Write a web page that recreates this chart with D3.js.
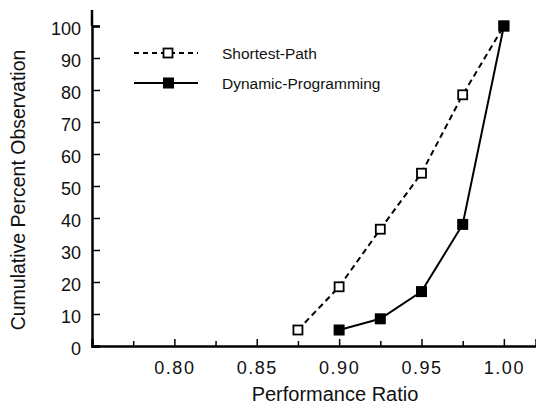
<!DOCTYPE html>
<html lang="en">
<head>
    <meta charset="UTF-8">
    <title>Performance Ratio</title>
    <script src="https://d3js.org/d3.v7.min.js"></script>
    <style>
        body {margin: 0; background: white;}
        text {
            font-family: "Liberation Sans", Arial, sans-serif;
        }
    </style>
</head>
<body>
<script>
    const width = 536;
    const height = 404;

    const ratios = [0.875, 0.90, 0.925, 0.95, 0.975, 1.00];
    const shortestPath = [5, 18.5, 36.5, 54, 78.5, 100];
    const dpRatios = [0.90, 0.925, 0.95, 0.975, 1.00];
    const dynamicProg = [5, 8.5, 17, 38, 100];
    const xTicks = [0.80, 0.85, 0.90, 0.95, 1.00];
    const xMinorTicks = [0.775, 0.825, 0.875, 0.925, 0.975];
    const yTicks = [0, 10, 20, 30, 40, 50, 60, 70, 80, 90, 100];

    const svg = d3.select("body").append("svg")
            .attr("width", width).attr("height", height);

    const x = d3.scaleLinear().domain([0.75, 1.0195]).range([92, 536]);
    const y = d3.scaleLinear().domain([0, 100]).range([346, 26]);

    // axes, ticks drawn inward
    svg.append("g")
            .attr("transform", "translate(0,346)")
            .call(d3.axisBottom(x).tickValues(xTicks).tickSize(-7).tickPadding(15)
                    .tickFormat(d3.format(".2f")))
            .call(g => g.select(".domain").attr("stroke-width", 2.5))
            .call(g => g.selectAll(".tick line").attr("stroke-width", 1.5))
            .call(g => g.selectAll(".tick text").attr("font-size", 18)
                    .attr("letter-spacing", 1.5).attr("fill", "#111"));

    svg.append("g")
            .attr("transform", "translate(0,346)")
            .call(d3.axisBottom(x).tickValues(xMinorTicks).tickSize(-5).tickFormat(""))
            .call(g => g.select(".domain").remove())
            .call(g => g.selectAll(".tick line").attr("stroke-width", 1.5));

    svg.append("g")
            .attr("transform", "translate(92,0)")
            .call(d3.axisLeft(y).tickValues(yTicks).tickSize(-8).tickPadding(11))
            .call(g => g.select(".domain").attr("stroke-width", 2.5))
            .call(g => g.selectAll(".tick line").attr("stroke-width", 1.5))
            .call(g => g.selectAll(".tick text").attr("font-size", 18)
                    .attr("dy", "0.45em").attr("fill", "#111"));

    // extend y axis above 100
    svg.append("line")
            .attr("x1", 92).attr("x2", 92)
            .attr("y1", y(100)).attr("y2", 10)
            .attr("stroke", "black").attr("stroke-width", 2.5);

    svg.append("text")
            .attr("transform", "translate(25,190) rotate(-90)")
            .attr("text-anchor", "middle")
            .attr("font-size", 19.5)
            .attr("fill", "#111")
            .text("Cumulative Percent Observation");

    svg.append("text")
            .attr("x", 335).attr("y", 401)
            .attr("text-anchor", "middle")
            .attr("font-size", 20)
            .attr("fill", "#111")
            .text("Performance Ratio");

    const line = d3.line().x(d => x(d[0])).y(d => y(d[1]));

    const spData = ratios.map((r, i) => [r, shortestPath[i]]);
    const dpData = dpRatios.map((r, i) => [r, dynamicProg[i]]);

    svg.append("path")
            .datum(spData)
            .attr("d", line)
            .attr("fill", "none")
            .attr("stroke", "black")
            .attr("stroke-width", 2)
            .attr("stroke-dasharray", "6,4");

    svg.append("path")
            .datum(dpData)
            .attr("d", line)
            .attr("fill", "none")
            .attr("stroke", "black")
            .attr("stroke-width", 2);

    svg.selectAll("rect.sp")
            .data(spData)
            .enter()
            .append("rect")
            .attr("class", "sp")
            .attr("x", d => x(d[0]) - 4.5)
            .attr("y", d => y(d[1]) - 4.5)
            .attr("width", 9).attr("height", 9)
            .attr("fill", "white")
            .attr("stroke", "black")
            .attr("stroke-width", 1.8);

    svg.selectAll("rect.dp")
            .data(dpData)
            .enter()
            .append("rect")
            .attr("class", "dp")
            .attr("x", d => x(d[0]) - 5.5)
            .attr("y", d => y(d[1]) - 5.5)
            .attr("width", 11).attr("height", 11)
            .attr("fill", "black");

    // legend
    const legend = svg.append("g");
    legend.append("line")
            .attr("x1", 134).attr("x2", 198).attr("y1", 53).attr("y2", 53)
            .attr("stroke", "black").attr("stroke-width", 2)
            .attr("stroke-dasharray", "5,4");
    legend.append("rect")
            .attr("x", 163.5).attr("y", 48.5).attr("width", 9).attr("height", 9)
            .attr("fill", "white").attr("stroke", "black").attr("stroke-width", 1.8);
    legend.append("text")
            .attr("x", 222).attr("y", 58.5)
            .attr("font-size", 15.5).attr("fill", "#111")
            .text("Shortest-Path");

    legend.append("line")
            .attr("x1", 134).attr("x2", 198).attr("y1", 83).attr("y2", 83)
            .attr("stroke", "black").attr("stroke-width", 2);
    legend.append("rect")
            .attr("x", 163).attr("y", 77.5).attr("width", 11).attr("height", 11)
            .attr("fill", "black");
    legend.append("text")
            .attr("x", 222).attr("y", 88.5)
            .attr("font-size", 15.5).attr("fill", "#111")
            .text("Dynamic-Programming");
</script>
</body>
</html>
